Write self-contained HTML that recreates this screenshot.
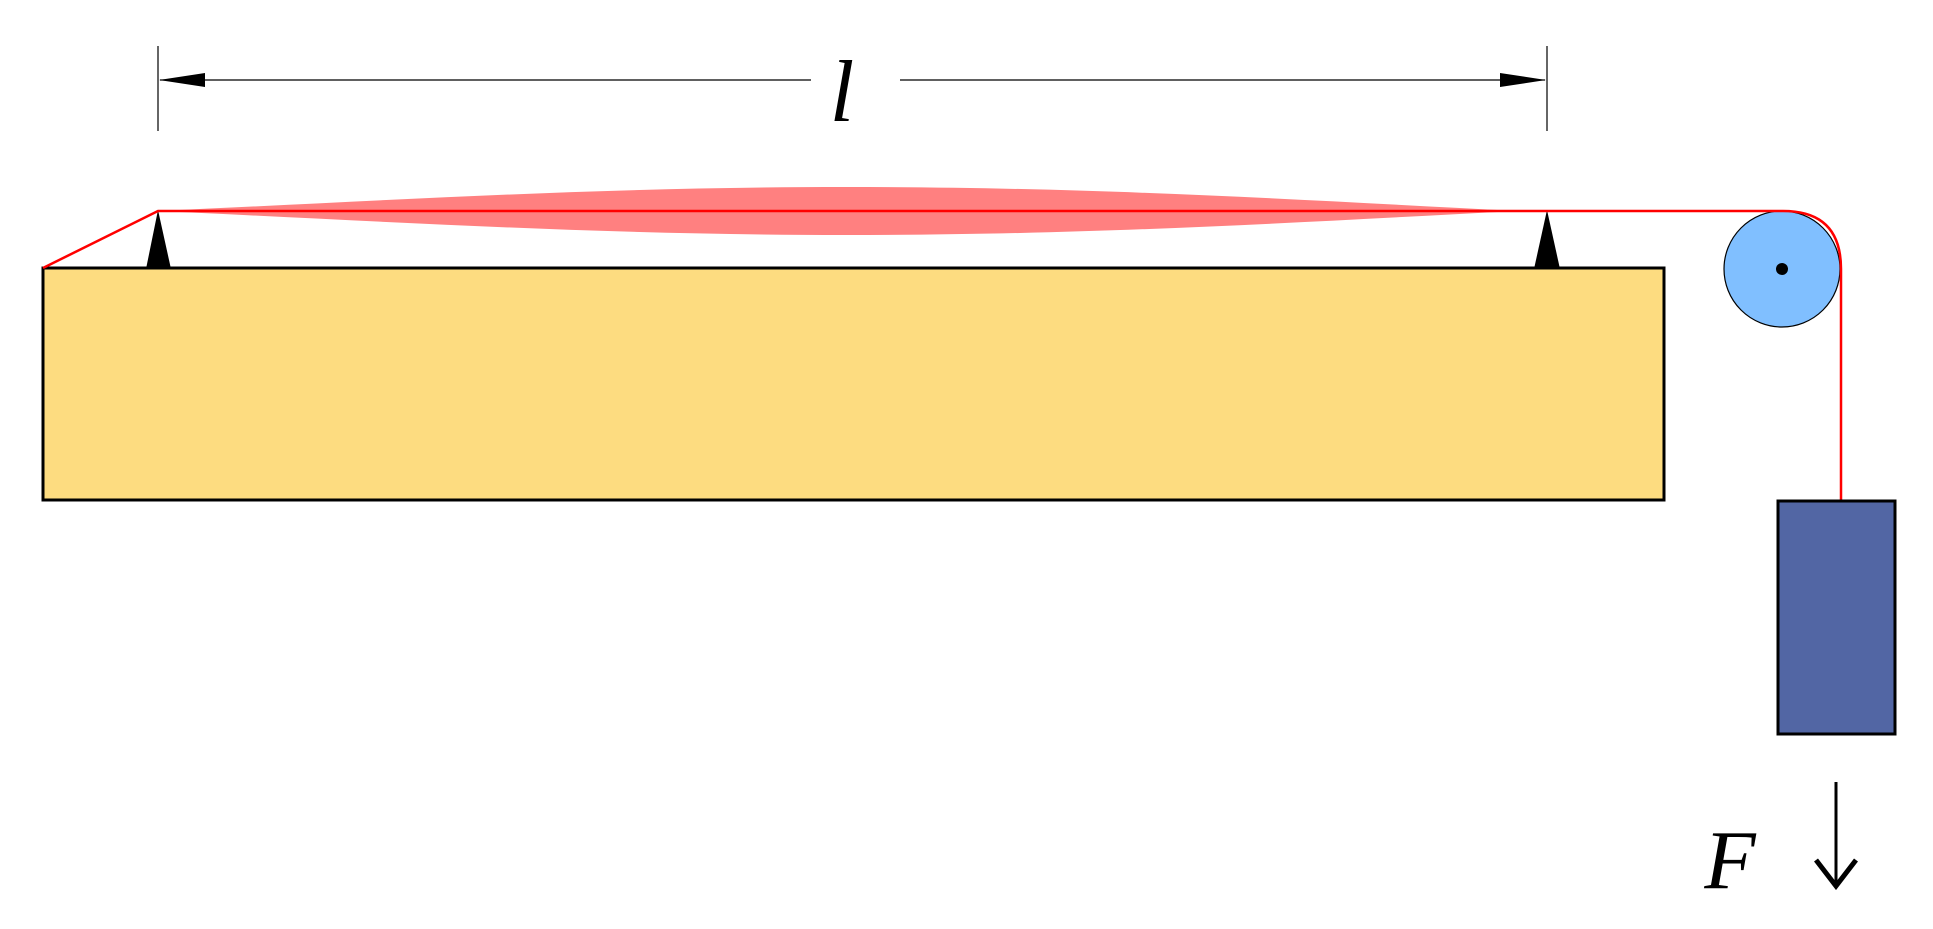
<!DOCTYPE html>
<html><head><meta charset="utf-8"><style>
html,body{margin:0;padding:0;background:#fff;}
svg{display:block;}
</style></head><body>
<svg width="1933" height="929" viewBox="0 0 1933 929" xmlns="http://www.w3.org/2000/svg">
<rect width="1933" height="929" fill="#fff"/>
<line x1="158" y1="46" x2="158" y2="131" stroke="#000" stroke-width="1.2"/>
<line x1="1547" y1="46" x2="1547" y2="131" stroke="#000" stroke-width="1.2"/>
<line x1="160" y1="80" x2="811" y2="80" stroke="#000" stroke-width="1.2"/>
<line x1="900" y1="80" x2="1545" y2="80" stroke="#000" stroke-width="1.2"/>
<polygon points="159,80 205,73 205,87" fill="#000"/>
<polygon points="1546,80 1500,73 1500,87" fill="#000"/>
<text x="842" y="121" font-family="Liberation Serif, serif" font-style="italic" font-size="88" text-anchor="middle">l</text>
<path d="M158,211 C400,200 600,187 846,187 C1100,187 1300,200 1518,211 C1300,222 1100,235 846,235 C600,235 400,222 158,211 Z" fill="#ff8080"/>
<rect x="43" y="268" width="1621" height="232" fill="#fddc80" stroke="#000" stroke-width="3"/>
<polygon points="158,210 146,269 171,269" fill="#000"/>
<polygon points="1547,210 1534,269 1560,269" fill="#000"/>
<circle cx="1782" cy="269" r="58" fill="#80bfff" stroke="#000" stroke-width="1.2"/>
<circle cx="1782" cy="269" r="6" fill="#000"/>
<path d="M43,268 L158,211 L1783,211 Q1841,211 1841,269 L1841,501" fill="none" stroke="#f00" stroke-width="2.5"/>
<rect x="1778" y="501" width="117" height="233" fill="#5266a4" stroke="#000" stroke-width="3"/>
<line x1="1836" y1="782" x2="1836" y2="885" stroke="#000" stroke-width="3"/>
<polyline points="1816,860 1836,886 1856,860" fill="none" stroke="#000" stroke-width="5"/>
<text x="1730" y="888" font-family="Liberation Serif, serif" font-style="italic" font-size="84" text-anchor="middle">F</text>
</svg>
</body></html>
